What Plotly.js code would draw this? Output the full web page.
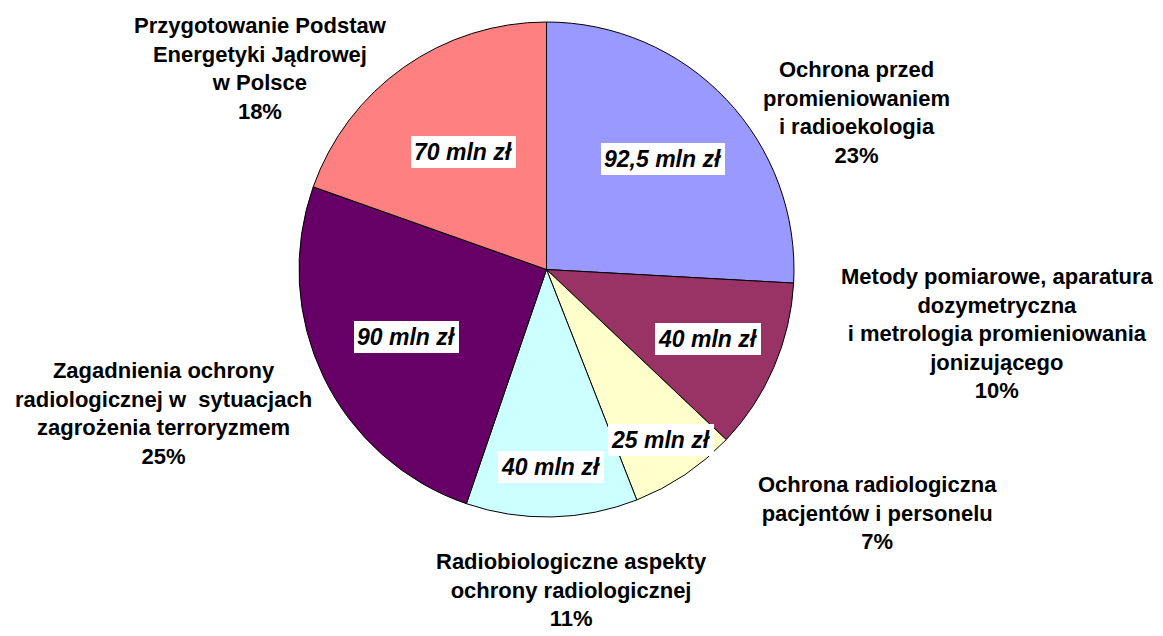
<!DOCTYPE html>
<html>
<head>
<meta charset="utf-8">
<script src="https://cdn.plot.ly/plotly-3.0.1.min.js"></script>
<style>html,body{margin:0;padding:0;background:#fff;}#chart{width:1163px;height:636px;}</style>
</head>
<body>
<div id="chart"></div>
<script>
// ---- data ----
var categories = [
  'Ochrona przed<br>promieniowaniem<br>i radioekologia',
  'Metody pomiarowe, aparatura<br>dozymetryczna<br>i metrologia promieniowania<br>jonizującego',
  'Ochrona radiologiczna<br>pacjentów i personelu',
  'Radiobiologiczne aspekty<br>ochrony radiologicznej',
  'Zagadnienia ochrony<br>radiologicznej w  sytuacjach<br>zagrożenia terroryzmem',
  'Przygotowanie Podstaw<br>Energetyki Jądrowej<br>w Polsce'
];
var valuesMln = [92.5, 40, 25, 40, 90, 70];
var percentLabels = ['23%', '10%', '7%', '11%', '25%', '18%'];
var unitLabel = 'mln zł';

// ---- style / layout ----
var colors = ['#9999FF', '#993366', '#FFFFCC', '#CCFFFF', '#660066', '#FF8080'];
var W = 1163, H = 636;
var M = {l: 299, r: 369, t: 22, b: 119};
var plotW = W - M.l - M.r, plotH = H - M.t - M.b;
// label block centres in pixels (layout only)
var outerLabelPx = [[856, 113], [997, 333], [877, 513], [571, 590], [163, 413], [260, 68]];
// radial fraction at which the boxed value labels sit
var innerRadialFrac = [0.65, 0.71, 0.83, 0.80, 0.63, 0.58];
var fontFam = 'Liberation Sans, Arial, sans-serif';

function pxToPaper(p) { return [(p[0] - M.l) / plotW, (H - M.b - p[1]) / plotH]; }

var annotations = [];
var total = valuesMln.reduce(function (a, b) { return a + b; }, 0);
var cum = 0;
valuesMln.forEach(function (v, i) {
  var mid = (cum + v / 2) / total * 2 * Math.PI;
  cum += v;
  var f = innerRadialFrac[i];
  annotations.push({
    xref: 'paper', yref: 'paper',
    x: 0.5 + 0.5 * f * Math.sin(mid),
    y: 0.5 + 0.5 * f * Math.cos(mid),
    xanchor: 'center', yanchor: 'middle',
    text: String(v).replace('.', ',') + ' ' + unitLabel,
    showarrow: false,
    bgcolor: '#FFFFFF', borderpad: 3, borderwidth: 0,
    font: {family: fontFam, size: 23, color: '#000', weight: 'bold', style: 'italic'}
  });
  var pp = pxToPaper(outerLabelPx[i]);
  annotations.push({
    xref: 'paper', yref: 'paper', x: pp[0], y: pp[1],
    xanchor: 'center', yanchor: 'middle', align: 'center',
    text: categories[i] + '<br>' + percentLabels[i],
    showarrow: false,
    font: {family: fontFam, size: 22, color: '#000', weight: 'bold'}
  });
});

var trace = {
  type: 'pie',
  values: valuesMln,
  labels: categories,
  sort: false,
  direction: 'clockwise',
  rotation: 0,
  marker: {colors: colors, line: {color: '#000', width: 1}},
  textinfo: 'none',
  hoverinfo: 'label+value',
  showlegend: false
};

var layout = {
  width: W, height: H,
  margin: M,
  paper_bgcolor: '#FFFFFF',
  plot_bgcolor: '#FFFFFF',
  showlegend: false,
  annotations: annotations
};

Plotly.newPlot('chart', [trace], layout, {displayModeBar: false, staticPlot: true});
</script>
</body>
</html>
